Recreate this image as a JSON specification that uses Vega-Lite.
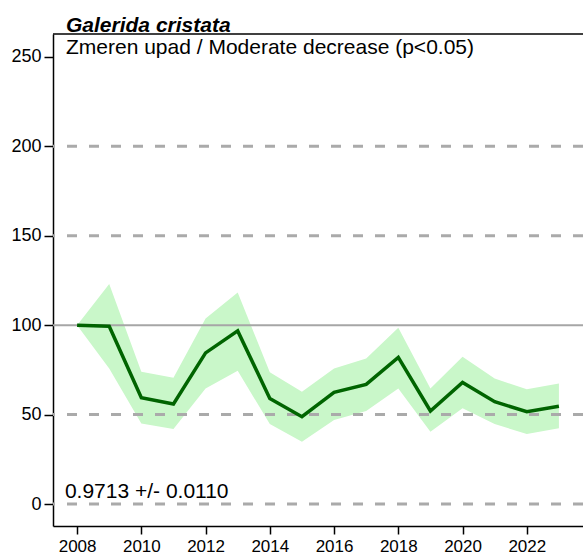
{
  "$schema": "https://vega.github.io/schema/vega-lite/v6.json",
  "width": 530,
  "height": 492,
  "autosize": {"type": "none"},
  "padding": {"left": 53, "top": 34, "right": 0, "bottom": 29},
  "background": "white",
  "config": {
    "view": {"stroke": null},
    "font": "Liberation Sans"
  },
  "title": {
    "text": "Galerida cristata",
    "anchor": "start",
    "frame": "group",
    "dx": 13,
    "dy": 27,
    "offset": 3,
    "fontSize": 21,
    "fontStyle": "italic",
    "fontWeight": "bold",
    "font": "Liberation Sans",
    "color": "black",
    "baseline": "bottom"
  },
  "datasets": {
    "trend": [
      {"year": 2008, "index": 100, "lower": 100, "upper": 100},
      {"year": 2009, "index": 99.4, "lower": 75.8, "upper": 123},
      {"year": 2010, "index": 59.4, "lower": 45, "upper": 74},
      {"year": 2011, "index": 55.9, "lower": 41.9, "upper": 70.6},
      {"year": 2012, "index": 84.5, "lower": 64.6, "upper": 103.7},
      {"year": 2013, "index": 96.8, "lower": 74.5, "upper": 118.3},
      {"year": 2014, "index": 59, "lower": 44.7, "upper": 73.6},
      {"year": 2015, "index": 48.8, "lower": 34.8, "upper": 62.7},
      {"year": 2016, "index": 62.4, "lower": 46.9, "upper": 75.8},
      {"year": 2017, "index": 66.9, "lower": 52, "upper": 81.4},
      {"year": 2018, "index": 82, "lower": 64.6, "upper": 98.5},
      {"year": 2019, "index": 52, "lower": 40.4, "upper": 64.6},
      {"year": 2020, "index": 68, "lower": 53.5, "upper": 82.3},
      {"year": 2021, "index": 57.2, "lower": 44.7, "upper": 70.2},
      {"year": 2022, "index": 51.6, "lower": 39.1, "upper": 64.1},
      {"year": 2023, "index": 54.7, "lower": 42.3, "upper": 67.4}
    ],
    "dashed": [{"level": 0}, {"level": 50}, {"level": 150}, {"level": 200}],
    "baseline": [{"level": 100}],
    "notes": [
      {"x": 2007.655, "y": 251.4, "label": "Zmeren upad / Moderate decrease (p<0.05)"},
      {"x": 2007.62, "y": 3.4, "label": "0.9713 +/- 0.0110"}
    ]
  },
  "layer": [
    {
      "data": {"name": "trend"},
      "mark": {"type": "area", "color": "#c9f7c9", "opacity": 1},
      "encoding": {
        "x": {
          "field": "year",
          "type": "quantitative",
          "scale": {"domain": [2007.25, 2023.75], "nice": false, "zero": false},
          "axis": {
            "title": null,
            "values": [2008, 2009, 2010, 2011, 2012, 2013, 2014, 2015, 2016, 2017, 2018, 2019, 2020, 2021, 2022, 2023],
            "labelExpr": "datum.value % 2 == 0 ? datum.value : ''",
            "format": "d",
            "grid": false,
            "domainColor": "black",
            "domainWidth": 1.5,
            "tickColor": "black",
            "tickWidth": 1.5,
            "tickSize": 8,
            "labelFontSize": 17,
            "labelColor": "black",
            "labelPadding": 4,
            "labelFont": "Liberation Sans",
            "labelFlush": false,
            "labelOverlap": false
          }
        },
        "y": {
          "field": "lower",
          "type": "quantitative",
          "scale": {"domain": [-12.3, 262.8], "nice": false, "zero": false},
          "axis": {
            "title": null,
            "values": [0, 50, 100, 150, 200, 250],
            "grid": false,
            "domainColor": "black",
            "domainWidth": 1.5,
            "tickColor": "black",
            "tickWidth": 1.5,
            "tickSize": 9,
            "labelFontSize": 18,
            "labelColor": "black",
            "labelPadding": 3,
            "labelFont": "Liberation Sans",
            "labelFlush": false,
            "labelOverlap": false
          }
        },
        "y2": {"field": "upper"}
      }
    },
    {
      "data": {"name": "dashed"},
      "mark": {"type": "rule", "color": "#aaaaaa", "strokeWidth": 3, "strokeDash": [10, 12]},
      "encoding": {"y": {"field": "level", "type": "quantitative"}}
    },
    {
      "data": {"name": "baseline"},
      "mark": {"type": "rule", "color": "#a6a6a6", "strokeWidth": 2},
      "encoding": {"y": {"field": "level", "type": "quantitative"}}
    },
    {
      "data": {"name": "baseline"},
      "mark": {"type": "rule", "color": "black", "strokeWidth": 1.5},
      "encoding": {"y": {"datum": 262.8}}
    },
    {
      "data": {"name": "trend"},
      "mark": {"type": "line", "color": "#006400", "strokeWidth": 3.5},
      "encoding": {
        "x": {"field": "year", "type": "quantitative"},
        "y": {"field": "index", "type": "quantitative"}
      }
    },
    {
      "data": {"name": "notes"},
      "mark": {"type": "text", "align": "left", "baseline": "alphabetic", "fontSize": 21, "font": "Liberation Sans", "color": "black"},
      "encoding": {
        "x": {"field": "x", "type": "quantitative"},
        "y": {"field": "y", "type": "quantitative"},
        "text": {"field": "label"}
      }
    }
  ]
}
